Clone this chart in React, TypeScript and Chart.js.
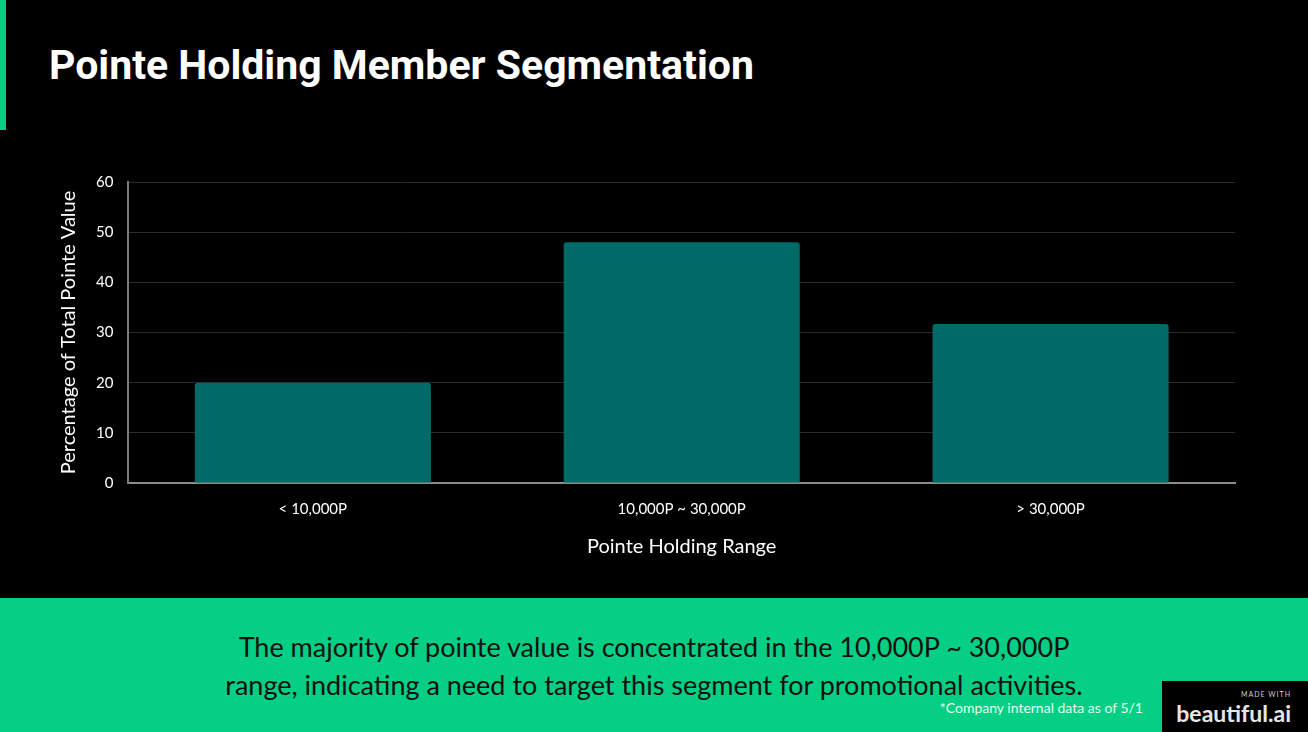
import React, { useEffect, useRef } from "react";
import { Chart, registerables } from "chart.js";

Chart.register(...registerables);

const categories = ["< 10,000P", "10,000P ~ 30,000P", "> 30,000P"];
const shareValues = [20, 48, 31.7];
const yTicks = [0, 10, 20, 30, 40, 50, 60];

const GREEN = "#05ce85";
const TEAL = "#006a66";

export default function App() {
  const canvasRef = useRef<HTMLCanvasElement | null>(null);

  useEffect(() => {
    document.body.style.margin = "0";
    const ctx = canvasRef.current;
    if (!ctx) return;
    const chart = new Chart(ctx, {
      type: "bar",
      data: {
        labels: categories,
        datasets: [
          {
            label: "Percentage of Total Pointe Value",
            data: shareValues,
            backgroundColor: TEAL,
            borderRadius: 3,
            borderSkipped: "bottom",
            barPercentage: 0.8,
            categoryPercentage: 0.8,
          },
        ],
      },
      options: {
        animation: false,
        responsive: false,
        maintainAspectRatio: false,
        layout: { padding: { left: 3, right: 15, top: 12, bottom: 7 } },
        plugins: {
          legend: { display: false },
          tooltip: { enabled: false },
        },
        scales: {
          x: {
            grid: { display: false, drawTicks: false },
            border: { color: "#8c8c8c", width: 2 },
            ticks: {
              color: "#ffffff",
              padding: 17,
              font: { family: "Lato", size: 15 },
            },
            title: {
              display: true,
              text: "Pointe Holding Range",
              color: "#ffffff",
              font: { family: "Lato", size: 20 },
              padding: { top: 0, bottom: 4 },
            },
          },
          y: {
            min: yTicks[0],
            max: yTicks[yTicks.length - 1],
            afterBuildTicks: (scale: any) => {
              scale.ticks = yTicks.map((v) => ({ value: v }));
            },
            grid: { color: "#2b2b2b", lineWidth: 1, drawTicks: false },
            border: { color: "#7a7a7a", width: 2 },
            ticks: {
              color: "#ffffff",
              padding: 15,
              font: { family: "Lato", size: 15 },
            },
            title: {
              display: true,
              text: "Percentage of Total Pointe Value",
              color: "#ffffff",
              font: { family: "Lato", size: 20 },
              padding: { top: 4, bottom: 0 },
            },
          },
        },
      },
    });
    return () => chart.destroy();
  }, []);

  return (
    <div
      style={{
        position: "absolute",
        left: 0,
        top: 0,
        width: 1308,
        height: 732,
        background: "#000",
        overflow: "hidden",
      }}
    >
      <div
        style={{
          position: "absolute",
          left: 0,
          top: 0,
          width: 6,
          height: 130,
          background: GREEN,
        }}
      />
      <div
        style={{
          position: "absolute",
          left: 49,
          top: 45,
          fontFamily: "Roboto",
          fontWeight: 700,
          fontSize: 41,
          lineHeight: 1,
          color: "#fff",
          whiteSpace: "nowrap",
        }}
      >
        Pointe Holding Member Segmentation
      </div>
      <canvas
        ref={canvasRef}
        width={1200}
        height={412}
        style={{ position: "absolute", left: 50, top: 158, width: 1200, height: 412 }}
      />
      <div
        style={{
          position: "absolute",
          left: 0,
          top: 598,
          width: 1308,
          height: 134,
          background: GREEN,
        }}
      >
        <div
          style={{
            position: "absolute",
            left: 0,
            top: 30,
            width: 1308,
            textAlign: "center",
            fontFamily: "Lato",
            fontSize: 27,
            lineHeight: "38px",
            color: "#111",
          }}
        >
          The majority of pointe value is concentrated in the 10,000P ~ 30,000P
          <br />
          range, indicating a need to target this segment for promotional activities.
        </div>
        <div
          style={{
            position: "absolute",
            right: 165,
            top: 102,
            fontFamily: "Lato",
            fontSize: 14,
            lineHeight: "16px",
            color: "#e6fff0",
            whiteSpace: "nowrap",
          }}
        >
          *Company internal data as of 5/1
        </div>
      </div>
      <div
        style={{
          position: "absolute",
          left: 1162,
          top: 681,
          width: 146,
          height: 51,
          background: "#000",
        }}
      >
        <div
          style={{
            position: "absolute",
            right: 17,
            top: 9,
            fontFamily: "Lato",
            fontSize: 7,
            letterSpacing: 1,
            color: "#cfcfcf",
            lineHeight: "9px",
          }}
        >
          MADE WITH
        </div>
        <div
          style={{
            position: "absolute",
            right: 17,
            top: 19,
            fontFamily: "Lato",
            fontWeight: 700,
            fontSize: 23,
            lineHeight: "26px",
            color: "#e6e6e6",
          }}
        >
          beautiful.ai
        </div>
      </div>
    </div>
  );
}
